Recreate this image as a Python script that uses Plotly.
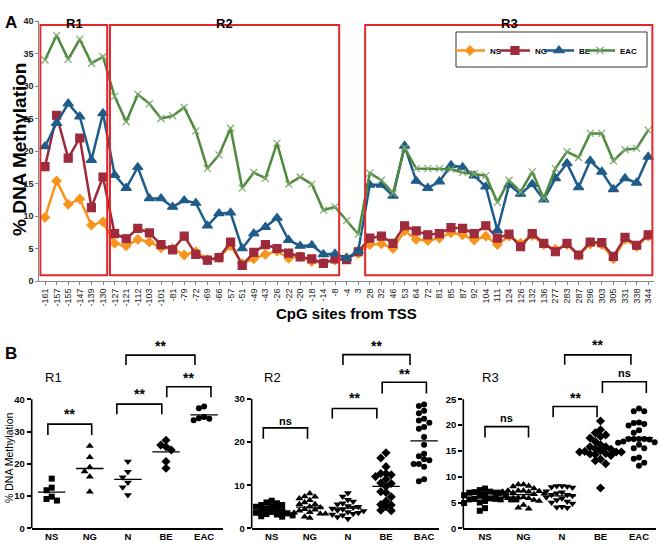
import plotly.graph_objects as go

W, H = 661, 544

# ---------------- data ----------------
sites = ["-161","-157","-155","-147","-139","-130","-127","-121","-112","-103","-101","-81","-79","-72",
         "-69","-66","-57","-51","-49","-43","-26","-22","-20","-18","-14","-8","-4","3","28","32","46",
         "53","64","72","81","85","87","92","104","111","124","126","132","136","277","283","287","296",
         "303","305","331","338","344"]

ns = [9.8,15.4,11.8,12.6,8.6,9.1, 5.8,5.4,6.4,6.0,5.1,5.0,4.0,4.5,3.3,3.6,5.4,2.7,3.4,4.1,4.6,3.5,3.8,3.0,2.8,3.2,
      3.6,4.2, 5.6,5.7,5.0,7.7,6.4,6.2,6.6,7.4,7.1,6.3,6.9,5.6,6.9,5.8,7.0,5.6,4.9,5.6,3.9,5.7,5.6,3.4,6.4,5.3,6.9]
ng = [17.6,25.5,18.9,22.0,11.3,16.0, 7.3,6.5,8.1,7.4,5.6,4.8,6.9,4.1,3.2,3.6,6.0,2.4,4.4,5.6,5.0,4.3,3.7,3.4,2.7,3.4,
      3.3,4.5, 6.6,6.9,5.8,8.5,7.7,7.1,7.3,8.2,8.1,7.3,8.5,6.6,7.2,5.3,7.3,5.8,4.5,5.8,4.0,6.0,5.9,3.8,6.7,5.5,7.1]
be = [20.7,24.3,27.3,25.3,18.6,25.8, 16.3,14.3,17.5,12.7,12.7,11.4,12.4,12.0,8.5,10.4,10.5,5.0,7.3,8.3,9.7,6.3,5.4,5.5,4.1,4.2,
      3.5,4.6, 14.8,14.8,13.1,20.8,15.4,14.3,15.3,17.8,17.5,16.2,14.5,7.8,14.8,13.4,14.9,12.5,15.8,18.1,14.4,18.5,16.8,14.1,15.8,15.1,19.1]
eac = [34.0,37.8,34.1,37.2,33.5,34.5, 28.4,24.5,28.7,27.3,25.0,25.4,26.7,23.1,17.3,19.4,23.5,14.3,16.7,15.8,21.2,14.9,16.0,14.9,10.9,11.4,
       9.3,7.2, 16.6,15.5,13.5,20.5,17.3,17.3,17.3,17.2,16.7,16.5,16.2,12.1,15.5,13.7,16.8,12.7,17.3,19.9,19.0,22.7,22.7,18.5,20.2,20.4,23.2]

regions = ["R1", "R2", "R3"]
region_start = ["-161", "-127", "28"]
region_end = ["-130", "-8", "344"]

# normal squamous group (N), per region (panel B)
n_r1 = [20.7, 17.5, 15.8, 14.2, 12.7, 10.3]
n_r2 = [8.2, 7.4, 6.6, 6.2, 5.8, 5.6, 5.2, 5.0, 4.8, 4.6, 4.4, 4.2, 4.0, 3.8, 3.6, 3.4, 3.2, 3.0, 2.6, 2.2]
n_r3 = [8.2, 8.2, 8.1, 8.0, 7.9, 7.2, 7.0, 6.8, 6.5, 6.5, 6.3, 6.0, 5.8, 5.5, 5.2, 5.0, 4.8, 4.2, 4.1, 4.0]

group_labels = [["NS", "NG", "N", "BE", "EAC"], ["NS", "NG", "N", "BE", "BAC"], ["NS", "NG", "N", "BE", "EAC"]]

# significance brackets: (from, to, top, leg, label, label_y)
brackets = [
    [(-0.1, 1.05, 32.3, 28.9, "**", 35.3), (1.71, 2.89, 38.5, 35.4, "**", 41.5),
     (3.02, 4.18, 43.9, 40.6, "**", 46.5), (1.95, 3.76, 53.7, 50.6, "**", 56.5)],
    [(-0.22, 0.94, 23.3, 20.8, "ns", 25.0), (1.59, 2.76, 27.8, 25.5, "**", 30.2),
     (2.90, 4.06, 33.9, 31.3, "**", 35.8), (1.87, 3.63, 40.3, 37.9, "**", 42.4)],
    [(0.0, 1.13, 19.7, 17.6, "ns", 21.3), (1.77, 2.91, 23.6, 21.5, "**", 25.3),
     (3.05, 4.19, 28.4, 26.2, "ns", 30.1), (2.07, 3.79, 33.6, 31.7, "**", 35.5)],
]

FONT = "Liberation Sans"


def px(x):
    return x / W


def py(y):
    return 1 - y / H


fig = go.Figure()

# ---------------- panel A ----------------
top_series = [("NS", ns, "#F7941E", "diamond", 7, "#F7941E"),
              ("NG", ng, "#9E2A3B", "square", 8, "#9E2A3B"),
              ("BE", be, "#1F5C8A", "triangle-up", 9, "#1F5C8A"),
              ("EAC", eac, "#4E8A3E", "x-thin", 7, "#7DA870")]
legend_x = [450, 495, 539, 580]
for j, (name, vals, col, sym, sz, mcol) in enumerate(top_series):
    fig.add_trace(go.Scatter(
        x=sites, y=vals, name=name, mode="lines+markers",
        line=dict(color=col, width=2.5),
        marker=dict(symbol=sym, size=sz, color=col, line=dict(width=1.2, color=mcol)),
        xaxis="x", yaxis="y", showlegend=True, legend="legend" if j == 0 else "legend%d" % (j + 1)))

shapes = []
annotations = []

# region boxes
for r, s0, s1 in zip(regions, region_start, region_end):
    i0 = sites.index(s0)
    i1 = sites.index(s1)
    shapes.append(dict(type="rect", xref="x", yref="y", x0=i0 - 0.4, x1=i1 + 0.36,
                       y0=0.9, y1=39.4, line=dict(color="#E3262B", width=2), fillcolor="rgba(0,0,0,0)"))
    annotations.append(dict(xref="x", yref="paper", x=(i0 + i1) / 2, y=py(14), text="<b>%s</b>" % r,
                            xanchor="center", showarrow=False, font=dict(family=FONT, size=13, color="black")))

# legend frame
shapes.append(dict(type="rect", xref="paper", yref="paper", x0=px(456), x1=px(647), y0=py(67), y1=py(32),
                   line=dict(color="#333333", width=1), fillcolor="rgba(0,0,0,0)"))

annotations += [
    dict(xref="paper", yref="paper", x=px(3), y=py(11), text="<b>A</b>", showarrow=False,
         xanchor="left", font=dict(family=FONT, size=17, color="black")),
    dict(xref="paper", yref="paper", x=px(3), y=py(353), text="<b>B</b>", showarrow=False,
         xanchor="left", font=dict(family=FONT, size=17, color="black")),
    dict(xref="paper", yref="paper", x=px(19), y=py(150), text="<b>% DNA Methylation</b>", showarrow=False,
         xanchor="center", yanchor="middle",
         textangle=-90, font=dict(family=FONT, size=19, color="black")),
    dict(xref="paper", yref="paper", x=px(346), y=py(313), text="<b>CpG sites from TSS</b>", showarrow=False,
         xanchor="center", yanchor="middle", font=dict(family=FONT, size=15, color="black")),
    dict(xref="paper", yref="paper", x=px(9), y=py(458), text="% DNA Methylation", showarrow=False,
         xanchor="center", yanchor="middle",
         textangle=-90, font=dict(family=FONT, size=10.5, color="black")),
]

# ---------------- panel B ----------------
y_bottom_px, y_top_px = 528.3, 335
panels = [
    dict(xa="x2", ya="y2", left=31.7, c0=51.7, step=38.1, right=223.2, ymax=40, ytop=399.3, dt=10,
         title_x=53),
    dict(xa="x3", ya="y3", left=251.7, c0=271.7, step=38.1, right=439.3, ymax=30, ytop=399.0, dt=10,
         title_x=272),
    dict(xa="x4", ya="y4", left=463.3, c0=485.0, step=38.5, right=656.0, ymax=25, ytop=399.3, dt=5,
         title_x=490),
]
symbols = ["square", "triangle-up", "triangle-down", "diamond", "circle"]
sizes = [6, 7, 7, 7, 6]


def swarm(vals, px_per_unit, px_per_cat, msize):
    h = msize / px_per_unit
    d = msize * 0.95 / px_per_cat
    order = sorted(range(len(vals)), key=lambda i: -vals[i])
    placed = []
    offs = [0.0] * len(vals)
    cands = [0.0]
    for m in range(1, 30):
        cands += [-m * d, m * d]
    for i in order:
        v = vals[i]
        for c in cands:
            if all(abs(c - po) >= d * 0.999 or abs(v - pv) >= h for po, pv in placed):
                offs[i] = c
                placed.append((c, v))
                break
    return offs


layout_axes = {}
n_groups = [n_r1, n_r2, n_r3]
for k, p in enumerate(panels):
    i0 = sites.index(region_start[k])
    i1 = sites.index(region_end[k]) + 1
    groups = [ns[i0:i1], ng[i0:i1], n_groups[k], be[i0:i1], eac[i0:i1]]
    ppu = (y_bottom_px - p["ytop"]) / p["ymax"]
    yr = (y_bottom_px - y_top_px) / ppu
    for gi, vals in enumerate(groups):
        offs = swarm(vals, ppu, p["step"], 5.5)
        fig.add_trace(go.Scatter(
            x=[gi + o for o in offs], y=vals, mode="markers", showlegend=False,
            marker=dict(symbol=symbols[gi], size=sizes[gi], color="black", line=dict(width=0)),
            xaxis=p["xa"], yaxis=p["ya"], cliponaxis=False, hoverinfo="skip"))
        mean = sum(vals) / len(vals)
        fig.add_trace(go.Scatter(
            x=[gi - 0.36, gi + 0.36], y=[mean, mean], mode="lines", showlegend=False,
            line=dict(color="black", width=1.3), xaxis=p["xa"], yaxis=p["ya"], hoverinfo="skip"))
    for (b0, b1, bt, bl, lab, ly) in brackets[k]:
        shapes.append(dict(type="path", xref=p["xa"], yref=p["ya"],
                           path="M %f,%f L %f,%f L %f,%f L %f,%f" % (b0, bl, b0, bt, b1, bt, b1, bl),
                           line=dict(color="black", width=1.6)))
        annotations.append(dict(xref=p["xa"], yref=p["ya"], x=(b0 + b1) / 2, y=ly, text="<b>%s</b>" % lab,
                                xanchor="center", yanchor="middle", showarrow=False,
                                font=dict(family=FONT, size=14 if lab == "**" else 11, color="black")))
    # y axis line up to max
    shapes.append(dict(type="line", xref=p["xa"] + " domain", yref=p["ya"], x0=0, x1=0, y0=0, y1=p["ymax"],
                       line=dict(color="black", width=1.6)))
    annotations.append(dict(xref="paper", yref="paper", x=px(p["title_x"]), y=py(377), text=regions[k],
                            xanchor="center", yanchor="middle",
                            showarrow=False, font=dict(family=FONT, size=13, color="black")))
    xname = "xaxis" + p["xa"][1:]
    yname = "yaxis" + p["ya"][1:]
    layout_axes[xname] = dict(
        domain=[px(p["left"]), px(p["right"])], anchor=p["ya"], automargin=False,
        range=[(p["left"] - p["c0"]) / p["step"], (p["right"] - p["c0"]) / p["step"]],
        tickvals=list(range(5)), ticktext=group_labels[k], showline=True, linecolor="black", linewidth=1.6,
        ticks="", showgrid=False, zeroline=False, ticklabelstandoff=-2,
        tickfont=dict(family=FONT, size=9.5, color="black", weight="bold"))
    layout_axes[yname] = dict(
        domain=[py(y_bottom_px), py(y_top_px)], anchor=p["xa"], range=[0, yr], automargin=False,
        tickvals=list(range(0, p["ymax"] + 1, p["dt"])), showline=False, showgrid=False, zeroline=False,
        ticks="outside", ticklen=4, tickwidth=1.5, tickcolor="black",
        tickfont=dict(family=FONT, size=9.5, color="black", weight="bold"))

legends = {}
for j, lx in enumerate(legend_x):
    key = "legend" if j == 0 else "legend%d" % (j + 1)
    legends[key] = dict(orientation="h", x=px(lx), y=py(36), xanchor="left", yanchor="top",
                        font=dict(family=FONT, size=8, color="black", weight="bold"),
                        bgcolor="rgba(0,0,0,0)", itemwidth=30)

fig.update_layout(
    template="none",
    width=W, height=H, margin=dict(l=0, r=0, t=0, b=0, autoexpand=False),
    paper_bgcolor="white", plot_bgcolor="white",
    showlegend=True,
    xaxis=dict(domain=[px(39.2), px(654)], anchor="y", type="category", categoryorder="array",
               categoryarray=sites, range=[-0.5, 52.5], tickangle=-90, automargin=False,
               tickfont=dict(family=FONT, size=9, color="#222222"),
               showline=True, linecolor="#868686", linewidth=1, ticks="outside", ticklen=3,
               tickcolor="#868686", showgrid=False, zeroline=False),
    yaxis=dict(domain=[py(281), py(21)], anchor="x", range=[0, 40], dtick=5, automargin=False,
               tickfont=dict(family=FONT, size=9, color="#222222", weight="bold"),
               showline=True, linecolor="#868686", linewidth=1, ticks="outside", ticklen=3,
               tickcolor="#868686", showgrid=False, zeroline=False),
    shapes=shapes, annotations=annotations,
    **legends,
    **layout_axes,
)

fig.write_html("out.html", config={"displayModeBar": False},
               post_script="document.body.style.margin='0';document.body.style.padding='0';document.body.style.overflow='hidden';")
